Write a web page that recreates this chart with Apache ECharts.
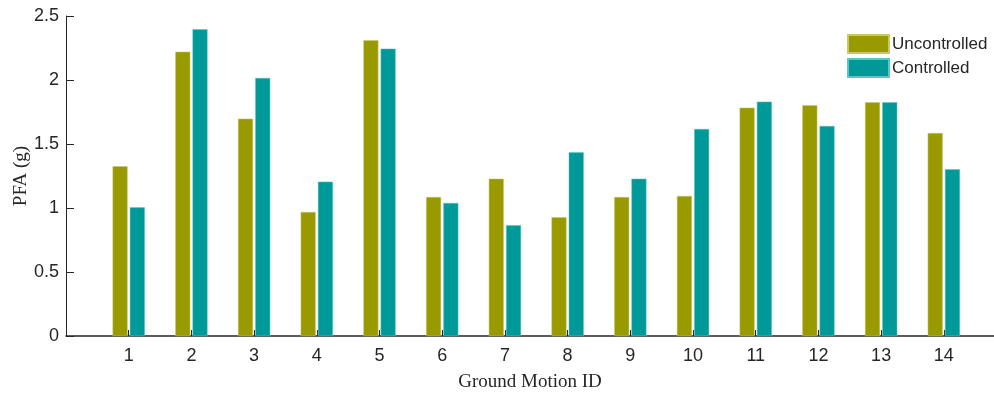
<!DOCTYPE html>
<html>
<head>
<meta charset="utf-8">
<script src="https://cdn.jsdelivr.net/npm/echarts@6/dist/echarts.min.js"></script>
<style>html,body{margin:0;padding:0;background:#fff}#c{width:994px;height:394px}</style>
</head>
<body>
<div id="c"></div>
<script>
const groundMotionIds = [1,2,3,4,5,6,7,8,9,10,11,12,13,14];
const uncontrolled = [1.326,2.221,1.698,0.969,2.310,1.086,1.229,0.927,1.086,1.094,1.784,1.802,1.826,1.586];
const controlled   = [1.005,2.396,2.016,1.206,2.245,1.039,0.865,1.435,1.229,1.617,1.831,1.641,1.826,1.302];
const yTicks = [0,0.5,1,1.5,2,2.5];
const seriesNames = ['Uncontrolled','Controlled'];

const axisColor = '#262626';
const chart = echarts.init(document.getElementById('c'), null, {renderer:'canvas'});
chart.setOption({
  animation:false,
  grid:{left:66,right:0,top:16,bottom:58,containLabel:false,outerBoundsMode:'none'},
  legend:{
    orient:'vertical', left:847, top:34, padding:0,
    itemWidth:41, itemHeight:18, itemGap:4, icon:'rect',
    textStyle:{fontFamily:'Liberation Sans', fontSize:17, color:axisColor, padding:[0,0,0,-2]},
    data:seriesNames
  },
  xAxis:{
    type:'value', min:0, max:14.8, interval:1,
    name:'Ground Motion ID', nameLocation:'middle', nameGap:37, nameMoveOverlap:false,
    nameTextStyle:{fontFamily:'Liberation Serif', fontSize:19, color:axisColor},
    axisLine:{lineStyle:{color:axisColor, width:1.5}},
    axisTick:{inside:true, length:6, customValues:groundMotionIds, lineStyle:{color:axisColor}},
    axisLabel:{customValues:groundMotionIds, margin:11, fontFamily:'Liberation Sans', fontSize:18, color:axisColor},
    splitLine:{show:false}
  },
  yAxis:{
    type:'value', min:0, max:2.5, interval:0.5,
    name:'PFA (g)', nameLocation:'middle', nameGap:35, nameMoveOverlap:false,
    nameTextStyle:{fontFamily:'Liberation Serif', fontSize:19, color:axisColor},
    axisLine:{show:true, lineStyle:{color:axisColor, width:1}},
    axisTick:{show:true, inside:true, length:8, lineStyle:{color:axisColor}},
    axisLabel:{customValues:yTicks, margin:7, fontFamily:'Liberation Sans', fontSize:18, color:axisColor},
    splitLine:{show:false}
  },
  series:[
    {name:seriesNames[0], type:'bar', barWidth:15, barGap:'15%',
     itemStyle:{color:'#999900', borderColor:'#c8c86a', borderWidth:0.5},
     data:groundMotionIds.map((id,i)=>[id, uncontrolled[i]])},
    {name:seriesNames[1], type:'bar', barWidth:15, barGap:'15%',
     itemStyle:{color:'#009999', borderColor:'#5fc4c4', borderWidth:0.5},
     data:groundMotionIds.map((id,i)=>[id, controlled[i]])}
  ]
});
</script>
</body>
</html>
